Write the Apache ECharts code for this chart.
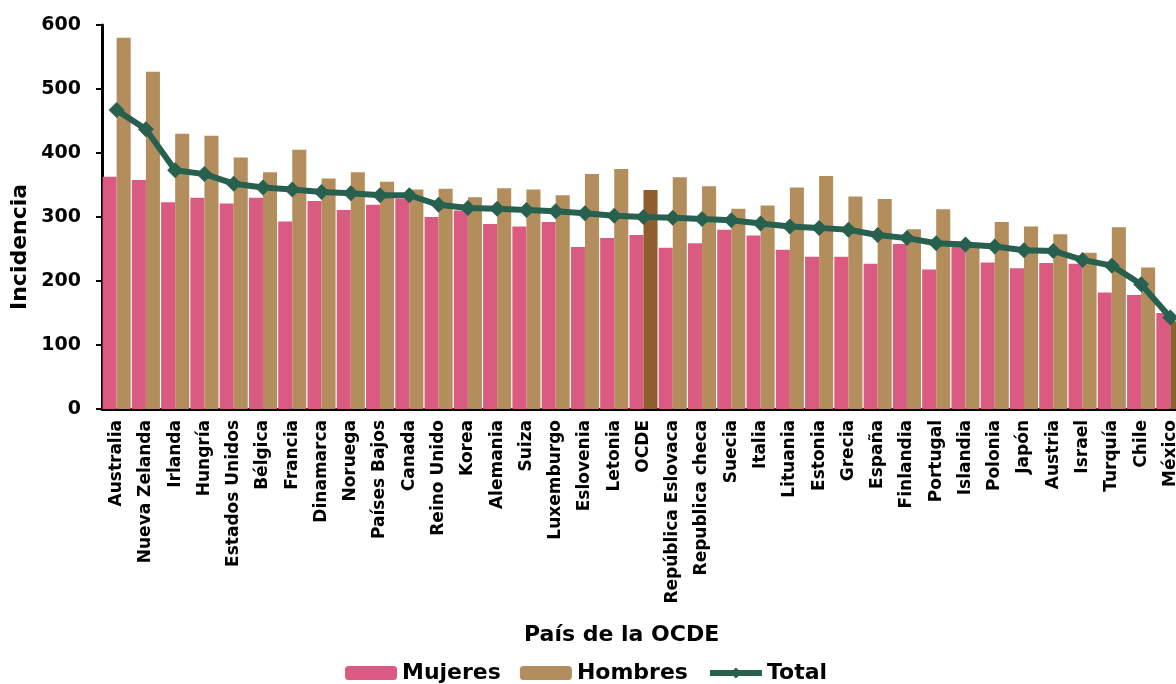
<!DOCTYPE html>
<html>
<head>
<meta charset="utf-8">
<script src="https://cdn.jsdelivr.net/npm/echarts@6/dist/echarts.min.js"></script>
<style>
html, body { margin: 0; padding: 0; background: #fff; overflow: hidden; }
#container { width: 1186px; height: 684px; }
</style>
</head>
<body>
<div id="container"></div>
<script>
var paises = ['Australia', 'Nueva Zelanda', 'Irlanda', 'Hungría', 'Estados Unidos', 'Bélgica', 'Francia',
    'Dinamarca', 'Noruega', 'Países Bajos', 'Canada', 'Reino Unido', 'Korea', 'Alemania', 'Suiza',
    'Luxemburgo', 'Eslovenia', 'Letonia', 'OCDE', 'República Eslovaca', 'Republica checa', 'Suecia',
    'Italia', 'Lituania', 'Estonia', 'Grecia', 'España', 'Finlandia', 'Portugal', 'Islandia', 'Polonia',
    'Japón', 'Austria', 'Israel', 'Turquía', 'Chile', 'México'];
var mujeres = [363, 358, 323, 330, 321, 330, 293, 325, 311, 319, 329, 300, 310, 289, 285, 292, 253, 267,
    272, 252, 259, 280, 271, 249, 238, 238, 227, 258, 218, 255, 229, 220, 228, 227, 182, 178, 150];
var hombres = [580, 527, 430, 427, 393, 370, 405, 360, 370, 355, 343, 344, 331, 345, 343, 334, 367, 375,
    342, 362, 348, 313, 318, 346, 364, 332, 328, 281, 312, 258, 292, 285, 273, 244, 284, 221, 137];
var total = [467, 437, 373, 367, 352, 346, 343, 339, 337, 334, 334, 319, 314, 313, 311, 309, 306, 302,
    300, 299, 297, 295, 290, 285, 283, 280, 272, 267, 259, 257, 254, 248, 247, 233, 224, 195, 143];
var destacados = ['OCDE', 'México'];

var dom = document.getElementById('container');
var myChart = echarts.init(dom);
var fuente = 'DejaVu Sans';

var option = {
    animation: false,
    title: {
        text: 'País de la OCDE',
        left: 519,
        top: 619,
        textStyle: { fontFamily: fuente, fontSize: 22, fontWeight: 'bold', color: '#000' }
    },
    graphic: [{
        type: 'text',
        x: 9,
        y: 310,
        rotation: Math.PI / 2,
        style: {
            text: 'Incidencia',
            fontFamily: fuente,
            fontSize: 22,
            fontWeight: 'bold',
            fill: '#000'
        }
    }],
    legend: {
        top: 657,
        left: 340,
        itemWidth: 52,
        itemHeight: 14,
        itemGap: 19,
        textStyle: { fontFamily: fuente, fontSize: 22, fontWeight: 'bold', color: '#000' },
        data: ['Mujeres', 'Hombres', { name: 'Total', lineStyle: { width: 6 } }]
    },
    grid: { left: 102, right: 1, top: 25, height: 384 },
    xAxis: {
        type: 'category',
        data: paises,
        axisLine: { lineStyle: { color: '#000', width: 3 } },
        axisTick: { length: 5, lineStyle: { color: '#000', width: 2 } },
        axisLabel: {
            interval: 0,
            rotate: 90,
            margin: 11,
            fontFamily: fuente,
            fontSize: 17,
            fontWeight: 'bold',
            color: '#000'
        }
    },
    yAxis: {
        type: 'value',
        min: 0,
        max: 600,
        interval: 100,
        splitLine: { show: false },
        axisLine: { show: true, lineStyle: { color: '#000', width: 3 } },
        axisTick: { show: true, length: 6, lineStyle: { color: '#000', width: 2 } },
        axisLabel: { fontFamily: fuente, fontSize: 19, fontWeight: 'bold', color: '#000', margin: 21 }
    },
    series: [
        {
            name: 'Mujeres',
            type: 'bar',
            barGap: '0%',
            barCategoryGap: '4%',
            itemStyle: { color: '#DB5A82' },
            data: mujeres
        },
        {
            name: 'Hombres',
            type: 'bar',
            itemStyle: { color: '#B38D5C' },
            data: hombres.map(function (v, i) {
                if (destacados.indexOf(paises[i]) >= 0) {
                    return { value: v, itemStyle: { color: '#8E5E2F' } };
                }
                return v;
            })
        },
        {
            name: 'Total',
            type: 'line',
            symbol: 'diamond',
            symbolSize: 16,
            z: 5,
            lineStyle: { color: '#27604F', width: 6 },
            itemStyle: { color: '#27604F' },
            data: total
        }
    ]
};

if (option && typeof option === 'object') {
    myChart.setOption(option, true);
}
</script>
</body>
</html>
